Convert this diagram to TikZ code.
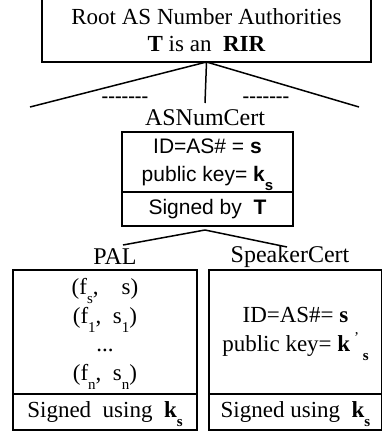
\documentclass[tikz,border=0pt]{standalone}
\usepackage{fontspec}
\setmainfont{Liberation Serif}
\setsansfont{Liberation Sans}
\usetikzlibrary{positioning}

\newcommand{\lsub}[1]{\smash{\raisebox{-0.85ex}{\fontsize{15}{15}\selectfont #1}}}
\newcommand{\dashrow}{\mbox{-}\mbox{-}\mbox{-}\mbox{-}\mbox{-}\mbox{-}\mbox{-}}

\begin{document}
\begin{tikzpicture}[x=1pt, y=-1pt, line width=1.5pt,
        cert/.style={draw, rectangle, inner sep=0pt, outer sep=0pt, align=center,
            font=\fontsize{23}{28.5}\selectfont},
        certsf/.style={cert, font=\sffamily\fontsize{21}{28}\selectfont},
        title/.style={inner sep=0pt, font=\fontsize{24}{24}\selectfont}]
    \useasboundingbox (0,0) rectangle (381,433);

    \node[cert, minimum width=329pt, minimum height=63pt, font=\fontsize{23}{27}\selectfont] (root) at (206.5, 30.5) {Root AS Number Authorities\\ \textbf{T} is an \ \textbf{RIR}};

    \coordinate (lend) at (30, 107);
    \coordinate (mend) at (205, 103);
    \coordinate (rend) at (359, 107);
    \node[inner sep=0pt, font=\bfseries\fontsize{20}{20}\selectfont] (dashl) at (125, 100) {\dashrow};
    \node[inner sep=0pt, font=\bfseries\fontsize{20}{20}\selectfont] (dashr) at (266, 100) {\dashrow};

    \node[title] (asnumlbl) at (205, 118) {ASNumCert};
    \node[certsf, minimum width=171pt, minimum height=60pt] (asnum) at (207.5, 162) {ID=AS\# = \textbf{s}\\ public key= \textbf{k}\lsub{\textbf{s}}};
    \node[certsf, minimum width=171pt, minimum height=34pt, below=0pt of asnum] (asnumsig) {Signed by \ \textbf{T}};

    \coordinate (fork) at (205, 230);
    \coordinate (pall) at (123, 245);
    \coordinate (spkr) at (287, 247);

    \node[title] (pallbl) at (115, 257) {PAL};
    \node[title] (spklbl) at (290, 257) {SpeakerCert};

    \node[cert, minimum width=184pt, minimum height=124pt] (pal) at (105, 332) {(f\lsub{s}, \ \ \ s)\\ (f\lsub{1}, \ s\lsub{1})\\ ...\\ (f\lsub{n}, \ s\lsub{n})};
    \node[cert, minimum width=184pt, minimum height=36pt, below=0pt of pal] (palsig) {Signed \ using \ \textbf{k}\lsub{\textbf{s}}};

    \node[cert, minimum width=173pt, minimum height=124pt] (spk) at (295.5, 332) {ID=AS\#= \textbf{s}\\ public key= \textbf{k}\,\smash{\raisebox{0.8ex}{\fontsize{15}{15}\selectfont '}}\,\lsub{\textbf{s}}};
    \node[cert, minimum width=173pt, minimum height=36pt, below=0pt of spk] (spksig) {Signed using \ \textbf{k}\lsub{\textbf{s}}};

    \draw (root.south) to (lend)
        (root.south) to (mend)
        (root.south) to (rend);
    \draw (fork) to (pall)
        (fork) to (spkr);
\end{tikzpicture}
\end{document}
